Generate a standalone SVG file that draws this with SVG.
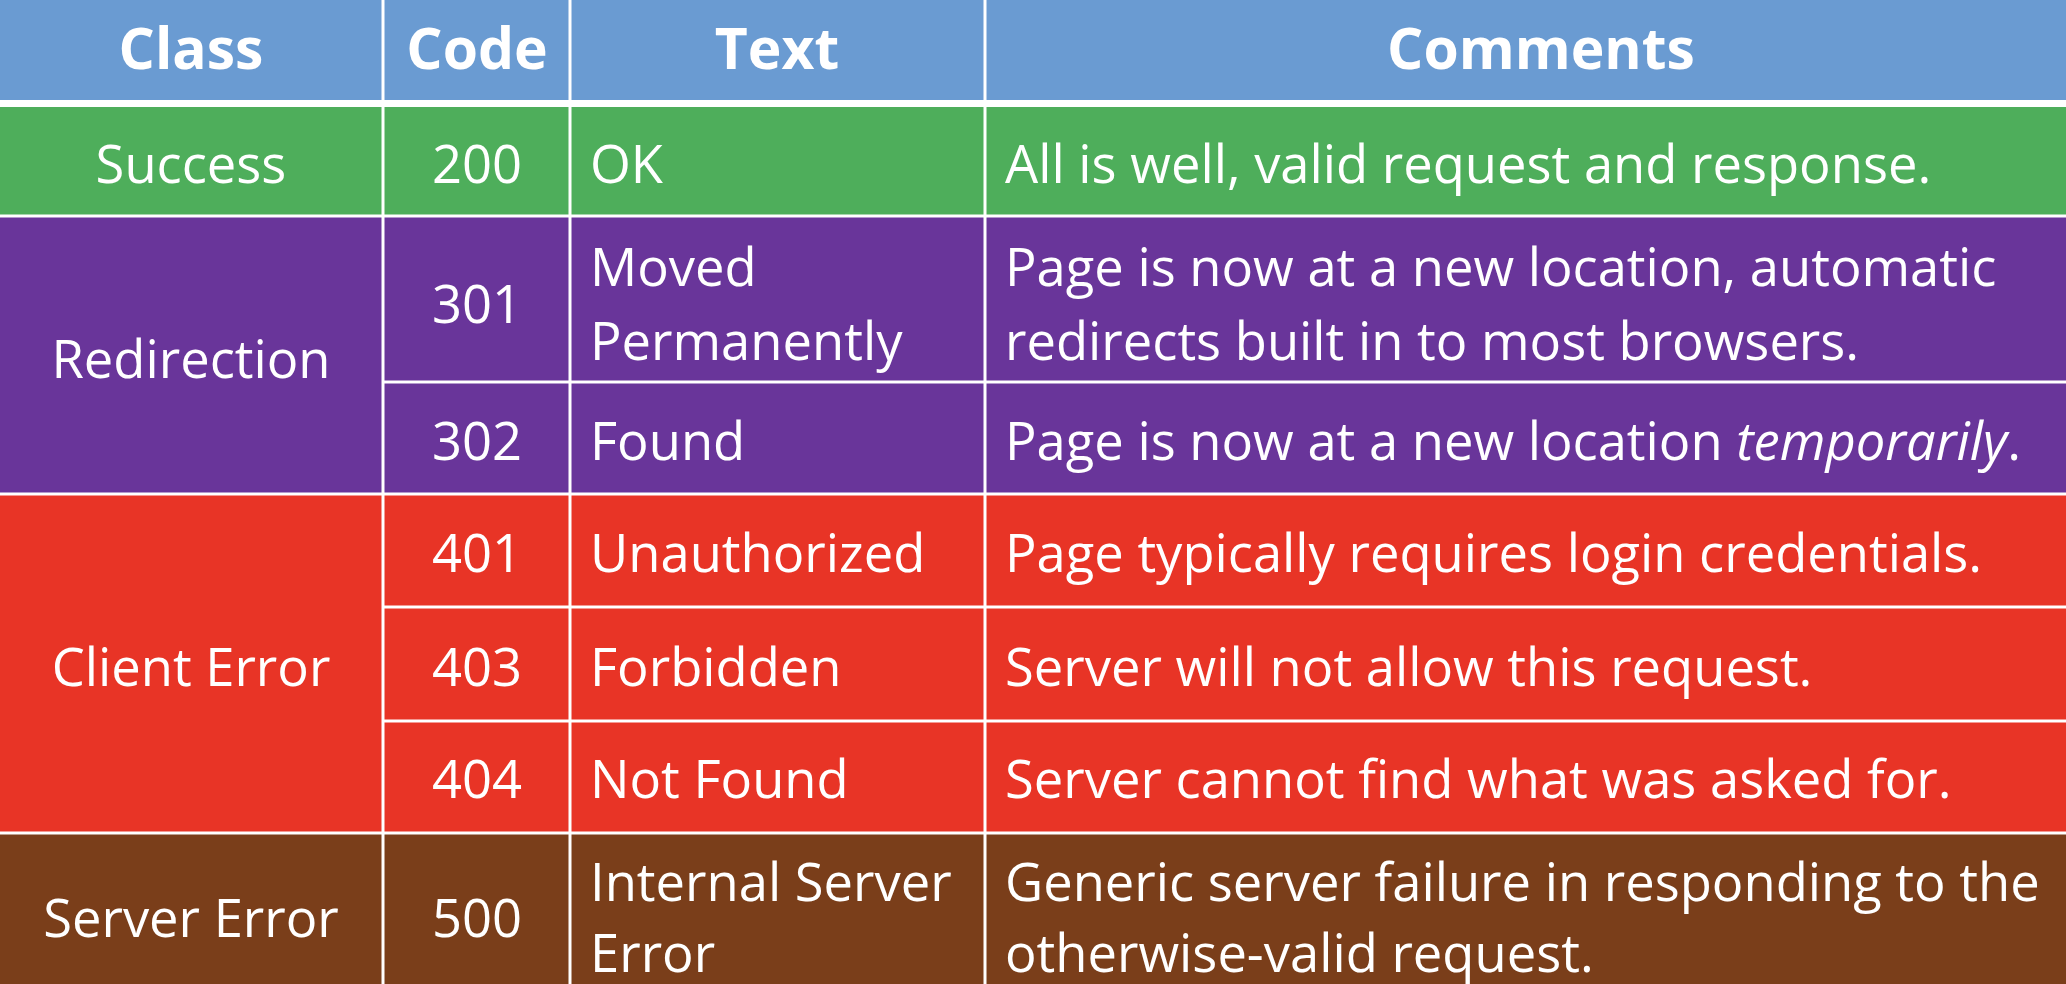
<svg xmlns="http://www.w3.org/2000/svg" width="2066" height="984" viewBox="0 0 2066 984">
<style>
.t{font-family:"Open Sans","Noto Sans",sans-serif;font-size:52.5px;fill:#fff;dominant-baseline:central}
.h{font-weight:bold;font-size:57px;text-anchor:middle}
.c{text-anchor:middle}
.sep{stroke:#fff;stroke-width:3}
</style>
<rect width="2066" height="984" fill="#fff"/>
<g id="header"><rect x="0" y="0" width="2066" height="100" fill="#6A9BD2"/>
<text class="t h" x="191" y="47">Class</text><text class="t h" x="477" y="47">Code</text><text class="t h" x="777" y="47">Text</text><text class="t h" x="1541" y="47">Comments</text></g>
<g id="success"><rect x="0" y="107" width="2066" height="109" fill="#4EAE5B"/>
<text class="t c" x="191" y="162">Success</text><text class="t c" x="477" y="162">200</text><text class="t" x="590" y="162">OK</text><text class="t" x="1005" y="162">All is well, valid request and response.</text></g>
<g id="redirection"><rect x="0" y="216" width="2066" height="278" fill="#69359A"/>
<text class="t c" x="191" y="357">Redirection</text><text class="t c" x="477" y="302">301</text><text class="t" x="590" y="265">Moved</text><text class="t" x="590" y="339">Permanently</text>
<text class="t" x="1005" y="265">Page is now at a new location, automatic</text><text class="t" x="1005" y="339">redirects built in to most browsers.</text>
<text class="t c" x="477" y="439">302</text><text class="t" x="590" y="439">Found</text><text class="t" x="1005" y="439">Page is now at a new location <tspan font-style="italic">temporarily</tspan>.</text></g>
<g id="client"><rect x="0" y="494" width="2066" height="339" fill="#E83426"/>
<text class="t c" x="191" y="665">Client Error</text>
<text class="t c" x="477" y="551">401</text><text class="t" x="590" y="551">Unauthorized</text><text class="t" x="1005" y="551">Page typically requires login credentials.</text>
<text class="t c" x="477" y="665">403</text><text class="t" x="590" y="665">Forbidden</text><text class="t" x="1005" y="665">Server will not allow this request.</text>
<text class="t c" x="477" y="777">404</text><text class="t" x="590" y="777">Not Found</text><text class="t" x="1005" y="777">Server cannot find what was asked for.</text></g>
<g id="server"><rect x="0" y="833" width="2066" height="151" fill="#7A3E1A"/>
<text class="t c" x="191" y="916">Server Error</text><text class="t c" x="477" y="916">500</text><text class="t" x="590" y="880">Internal Server</text><text class="t" x="590" y="951">Error</text>
<text class="t" x="1005" y="880">Generic server failure in responding to the</text><text class="t" x="1005" y="951">otherwise-valid request.</text></g>
<g id="connectors">
<line class="sep" x1="383" y1="0" x2="383" y2="984"/><line class="sep" x1="570" y1="0" x2="570" y2="984"/><line class="sep" x1="985" y1="0" x2="985" y2="984"/>
<line class="sep" x1="0" y1="216" x2="2066" y2="216"/><line class="sep" x1="383" y1="382" x2="2066" y2="382"/>
<line class="sep" x1="0" y1="494" x2="2066" y2="494"/><line class="sep" x1="383" y1="607" x2="2066" y2="607"/><line class="sep" x1="383" y1="721" x2="2066" y2="721"/>
<line class="sep" x1="0" y1="833" x2="2066" y2="833"/>
</g>
</svg>
